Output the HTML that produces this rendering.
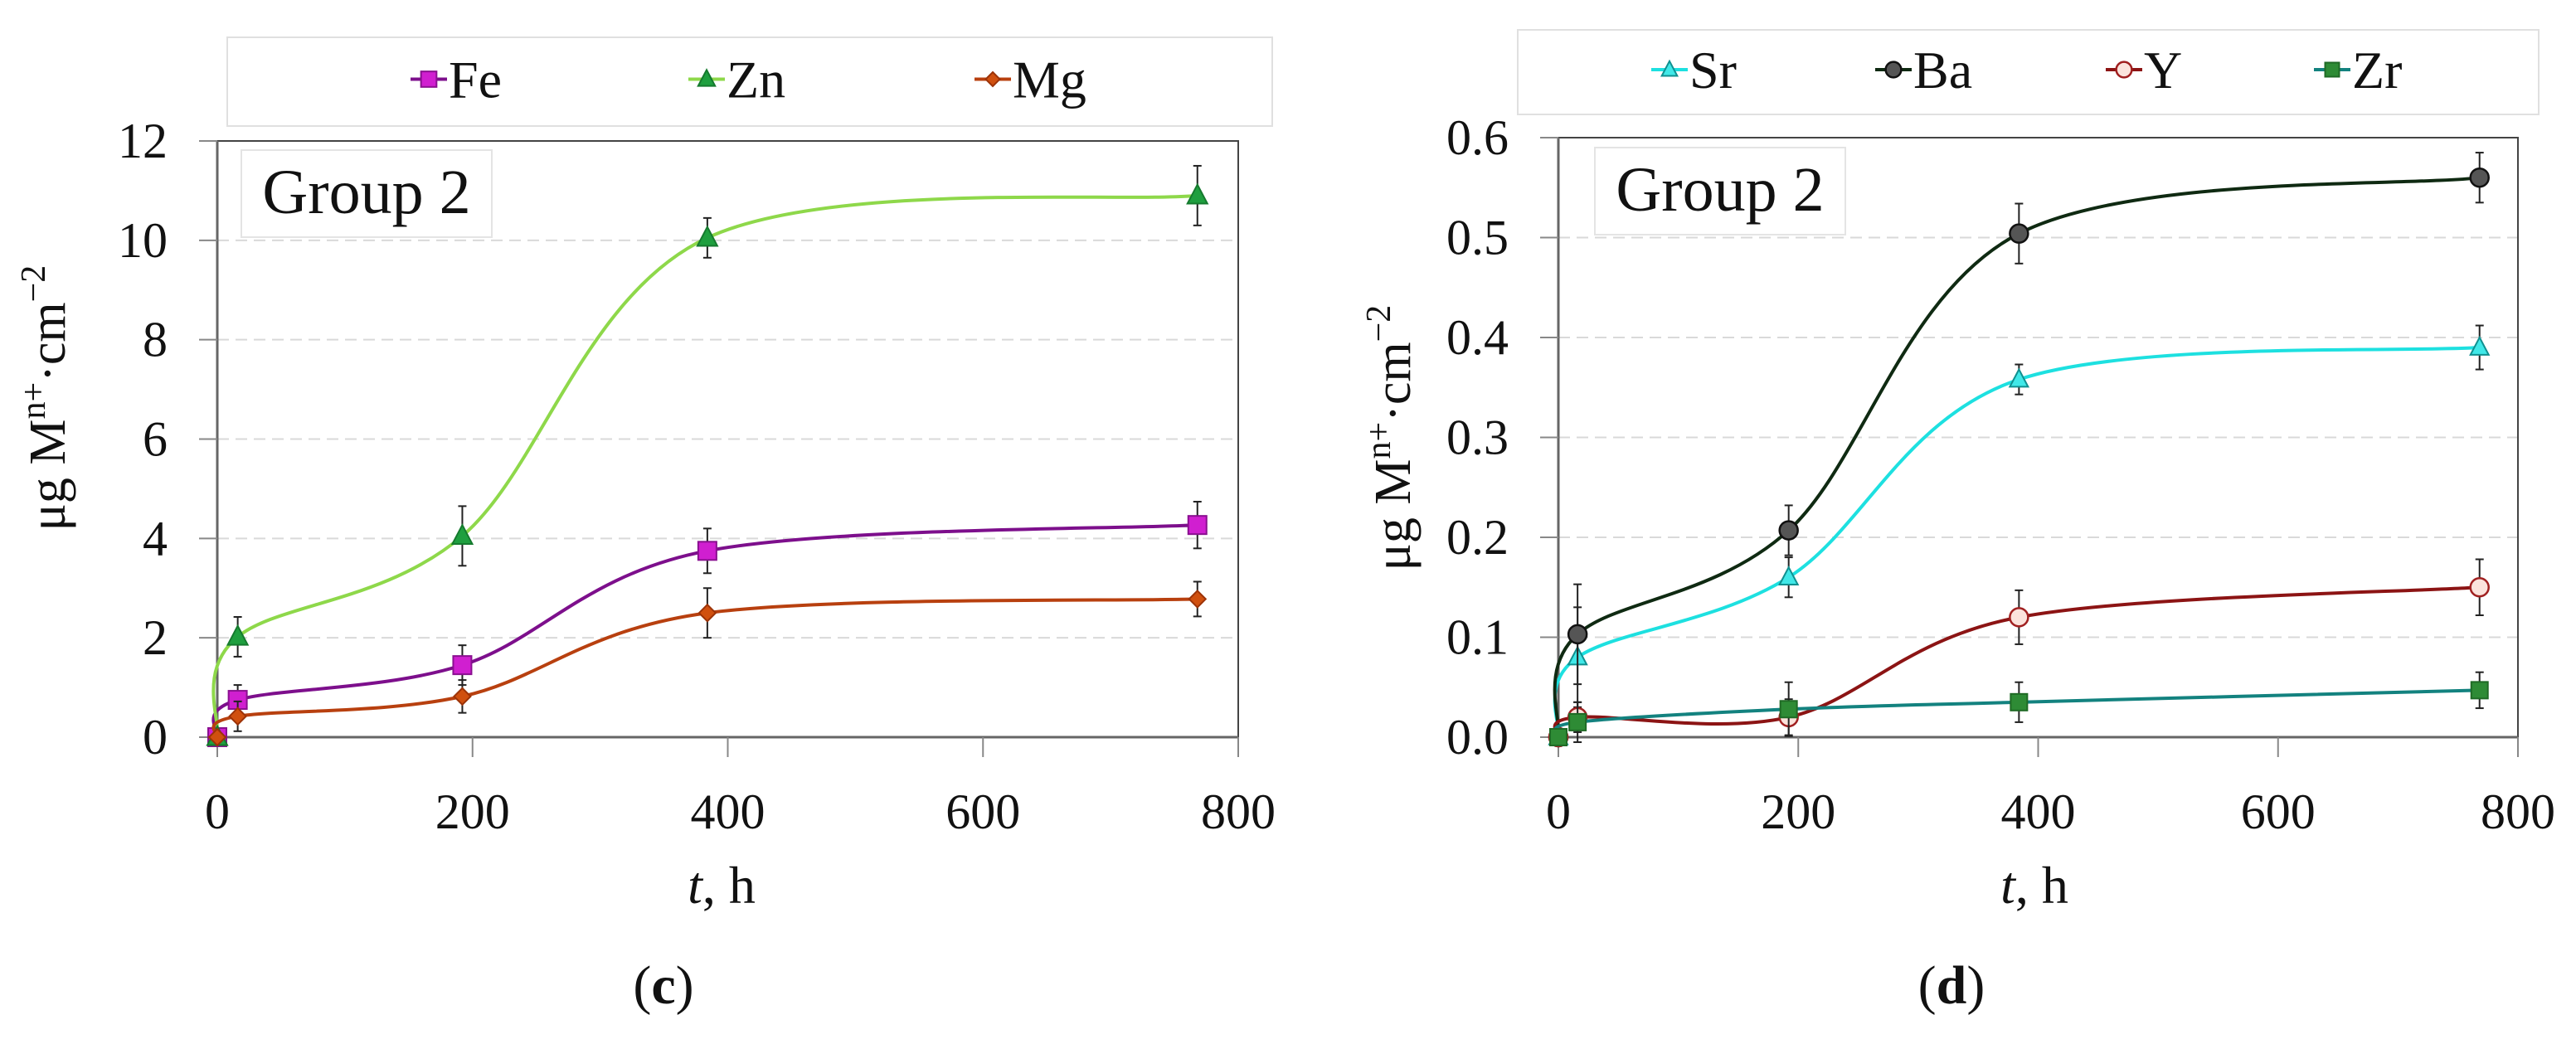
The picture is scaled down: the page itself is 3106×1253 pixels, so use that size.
<!DOCTYPE html>
<html><head><meta charset="utf-8">
<style>
html,body{margin:0;padding:0;background:#fff;overflow:hidden;}
svg{display:block;font-family:"Liberation Serif",serif;}
</style></head>
<body>
<svg id="svg" width="3106" height="1253" viewBox="0 0 3106 1253" xmlns="http://www.w3.org/2000/svg">
  <rect x="0" y="0" width="3106" height="1253" fill="#fff"/>
</svg>
<script>
// ---- Data ----
const times = [0, 16, 192, 384, 768];
const xTicks = [0, 200, 400, 600, 800];
// Chart c
const cYTicks = [0, 2, 4, 6, 8, 10, 12];
const cYTickLabels = ["0","2","4","6","8","10","12"];
const feValues = [0, 0.75, 1.45, 3.75, 4.27];
const feErr = [0, 0.3, 0.4, 0.45, 0.47];
const znValues = [0, 2.02, 4.05, 10.05, 10.9];
const znErr = [0, 0.4, 0.6, 0.4, 0.6];
const mgValues = [0, 0.42, 0.82, 2.5, 2.78];
const mgErr = [0, 0.3, 0.33, 0.5, 0.35];
// Chart d
const dYTicks = [0, 0.1, 0.2, 0.3, 0.4, 0.5, 0.6];
const dYTickLabels = ["0.0","0.1","0.2","0.3","0.4","0.5","0.6"];
const srValues = [0, 0.08, 0.16, 0.358, 0.39];
const srErr = [0, 0.05, 0.02, 0.015, 0.022];
const baValues = [0, 0.103, 0.207, 0.504, 0.56];
const baErr = [0, 0.05, 0.025, 0.03, 0.025];
const yValues = [0, 0.02, 0.02, 0.12, 0.15];
const yErr = [0, 0.015, 0.018, 0.027, 0.028];
const zrValues = [0, 0.015, 0.028, 0.035, 0.047];
const zrErr = [0, 0.02, 0.027, 0.02, 0.018];

const NS = "http://www.w3.org/2000/svg";
const svg = document.getElementById('svg');
function el(tag, attrs, parent, text){
  const e = document.createElementNS(NS, tag);
  for (const k in attrs) e.setAttribute(k, attrs[k]);
  if (text !== undefined) e.textContent = text;
  (parent || svg).appendChild(e);
  return e;
}
function smoothPath(pts){
  let d = "M" + pts[0][0] + "," + pts[0][1];
  for (let i = 0; i < pts.length - 1; i++){
    const p0 = pts[Math.max(0,i-1)], p1 = pts[i], p2 = pts[i+1], p3 = pts[Math.min(pts.length-1,i+2)];
    const t = 1/6;
    const c1 = [p1[0] + (p2[0]-p0[0])*t, p1[1] + (p2[1]-p0[1])*t];
    const c2 = [p2[0] - (p3[0]-p1[0])*t, p2[1] - (p3[1]-p1[1])*t];
    d += " C" + c1[0] + "," + c1[1] + " " + c2[0] + "," + c2[1] + " " + p2[0] + "," + p2[1];
  }
  return d;
}
function marker(g, shape, x, y, fill, stroke, s){
  let m;
  if (shape === 'square') m = el('rect', {x:x-s, y:y-s, width:2*s, height:2*s, fill:fill, stroke:stroke, 'stroke-width':2}, g);
  else if (shape === 'triangle') m = el('polygon', {points:`${x},${y-s*1.1} ${x-s},${y+s*0.8} ${x+s},${y+s*0.8}`, fill:fill, stroke:stroke, 'stroke-width':2}, g);
  else if (shape === 'diamond') m = el('polygon', {points:`${x},${y-s} ${x+s},${y} ${x},${y+s} ${x-s},${y}`, fill:fill, stroke:stroke, 'stroke-width':2}, g);
  else m = el('circle', {cx:x, cy:y, r:s, fill:fill, stroke:stroke, 'stroke-width':2.5}, g);
  return m;
}

function chart(cfg){
  const g = el('g', {});
  
  
  const X = v => cfg.x0 + (v - 0) / 800 * (cfg.x1 - cfg.x0);
  const Y = v => cfg.y0 - (v - 0) / cfg.ymax * (cfg.y0 - cfg.y1);
  cfg.yTicks.forEach((t, i) => {
    if (i > 0 && i < cfg.yTicks.length - 1) {
      const l = el('line', {x1:cfg.x0, x2:cfg.x1, y1:Y(t), y2:Y(t), stroke:'#d9d9d9', 'stroke-width':2, 'stroke-dasharray':'14,8'}, g);
      
      
    }
    const tl = el('text', {x:cfg.x0 - 60, y:Y(t) + 20, 'text-anchor':'end', 'font-size':60, fill:'#111'}, g, cfg.yLabels[i]);
    
    
  });
  const fr = el('rect', {x:cfg.x0, y:cfg.y1, width:cfg.x1-cfg.x0, height:cfg.y0-cfg.y1, fill:'none', stroke:'#444', 'stroke-width':2}, g);
  
  
  el('line', {x1:cfg.x0, x2:cfg.x0, y1:cfg.y1, y2:cfg.y0, stroke:'#666', 'stroke-width':3}, g);
  el('line', {x1:cfg.x0, x2:cfg.x1, y1:cfg.y0, y2:cfg.y0, stroke:'#666', 'stroke-width':3}, g);
  cfg.yTicks.forEach(t => el('line', {x1:cfg.x0-22, x2:cfg.x0, y1:Y(t), y2:Y(t), stroke:'#888', 'stroke-width':2}, g));
  xTicks.forEach(t => {
    el('line', {x1:X(t), x2:X(t), y1:cfg.y0, y2:cfg.y0+24, stroke:'#888', 'stroke-width':2}, g);
    const tl = el('text', {x:X(t), y:cfg.y0 + 110, 'text-anchor':'middle', 'font-size':60, fill:'#111'}, g, String(t));
    
    
  });
  const gb = el('rect', {x:cfg.gx, y:cfg.gy, width:302, height:105, fill:'#fff', stroke:'#e4e4e4', 'stroke-width':2}, g);
  
  
  const gt = el('text', {x:cfg.gx + 151, y:cfg.gy + 76, 'text-anchor':'middle', 'font-size':76, fill:'#111'}, g, 'Group 2');
  
  
  cfg.series.forEach(s => {
    const sg = el('g', {}, g);
    
    
    const pts = times.map((t, i) => [X(t), Y(s.values[i])]);
    const p = el('path', {d:smoothPath(pts), fill:'none', stroke:s.line, 'stroke-width':4}, sg);
    
    
    times.forEach((t, i) => {
      if (s.err[i] > 0) {
        const x = X(t), ya = Y(s.values[i] + s.err[i]), yb = Y(s.values[i] - s.err[i]);
        el('line', {x1:x, x2:x, y1:ya, y2:yb, stroke:'#222', 'stroke-width':2}, sg);
        el('line', {x1:x-5, x2:x+5, y1:ya, y2:ya, stroke:'#222', 'stroke-width':2}, sg);
        el('line', {x1:x-5, x2:x+5, y1:yb, y2:yb, stroke:'#222', 'stroke-width':2}, sg);
      }
      const m = marker(sg, s.shape, X(t), Y(s.values[i]), s.fill, s.stroke, s.size);
      
      
    });
  });
  const lg = el('g', {}, g);
  
  
  el('rect', {x:cfg.lx, y:cfg.ly, width:cfg.lw, height:cfg.lh, fill:'#fff', stroke:'#e0e0e0', 'stroke-width':2}, lg);
  cfg.series.forEach((s, i) => {
    const mx = cfg.legendX[i], my = cfg.ly + cfg.lh/2 - 3;
    const eg = el('g', {}, lg);
    
    
    el('line', {x1:mx-22, x2:mx+22, y1:my, y2:my, stroke:s.line, 'stroke-width':4}, eg);
    marker(eg, s.shape, mx, my, s.fill, s.stroke, s.size*0.85);
    el('text', {x:mx + 24, y:my + 22, 'font-size':64, fill:'#111'}, eg, s.label);
  });
  const xt = el('text', {x:cfg.xtX, y:cfg.y0 + 200, 'text-anchor':'middle', 'font-size':64, fill:'#111'}, g);
  
  
  el('tspan', {'font-style':'italic'}, xt, 't');
  el('tspan', {}, xt, ', h');
  const yt = el('text', {x:0, y:0, 'text-anchor':'middle', 'font-size':62, fill:'#111', transform:`translate(${cfg.ytX},${cfg.ytY}) rotate(-90)`}, g);
  
  
  el('tspan', {}, yt, 'μg M');
  el('tspan', {'font-size':42, dy:-24}, yt, 'n+');
  el('tspan', {dy:24}, yt, '·cm');
  el('tspan', {'font-size':42, dy:-24}, yt, '−2');
  const pl = el('text', {x:cfg.pX, y:1210, 'text-anchor':'middle', 'font-size':66, fill:'#111'}, g);
  
  
  el('tspan', {}, pl, '(');
  el('tspan', {'font-weight':'bold'}, pl, cfg.panel);
  el('tspan', {}, pl, ')');
}

chart({
  name:'chart-c', x0:262, x1:1493, y0:889, y1:170, ymax:12,
  yTicks:cYTicks, yLabels:cYTickLabels, gx:291, gy:181,
  lx:274, ly:45, lw:1260, lh:107, legendX:[517, 852, 1197],
  xtX:870, ytX:78, ytY:480, pX:800, panel:'c',
  series:[
    {label:'Fe', values:feValues, err:feErr, line:'#7d0f8c', fill:'#d01fd0', stroke:'#8a1090', shape:'square', size:11},
    {label:'Zn', values:znValues, err:znErr, line:'#8ed84a', fill:'#1f9f3f', stroke:'#157a2e', shape:'triangle', size:12},
    {label:'Mg', values:mgValues, err:mgErr, line:'#b8400f', fill:'#d0500f', stroke:'#9c3308', shape:'diamond', size:10}
  ]
});
chart({
  name:'chart-d', x0:1879, x1:3036, y0:889, y1:166, ymax:0.6,
  yTicks:dYTicks, yLabels:dYTickLabels, gx:1923, gy:178,
  lx:1830, ly:36, lw:1231, lh:102, legendX:[2013, 2283, 2561, 2812],
  xtX:2453, ytX:1700, ytY:528, pX:2353, panel:'d',
  series:[
    {label:'Sr', values:srValues, err:srErr, line:'#1de0e0', fill:'#40e8e8', stroke:'#109090', shape:'triangle', size:11},
    {label:'Ba', values:baValues, err:baErr, line:'#0f2a12', fill:'#555', stroke:'#111', shape:'circle', size:11},
    {label:'Y', values:yValues, err:yErr, line:'#8c1414', fill:'#fbe3dc', stroke:'#a02020', shape:'circle', size:11},
    {label:'Zr', values:zrValues, err:zrErr, line:'#13827f', fill:'#2e8b35', stroke:'#1f6a25', shape:'square', size:10}
  ]
});
</script>
</body></html>
